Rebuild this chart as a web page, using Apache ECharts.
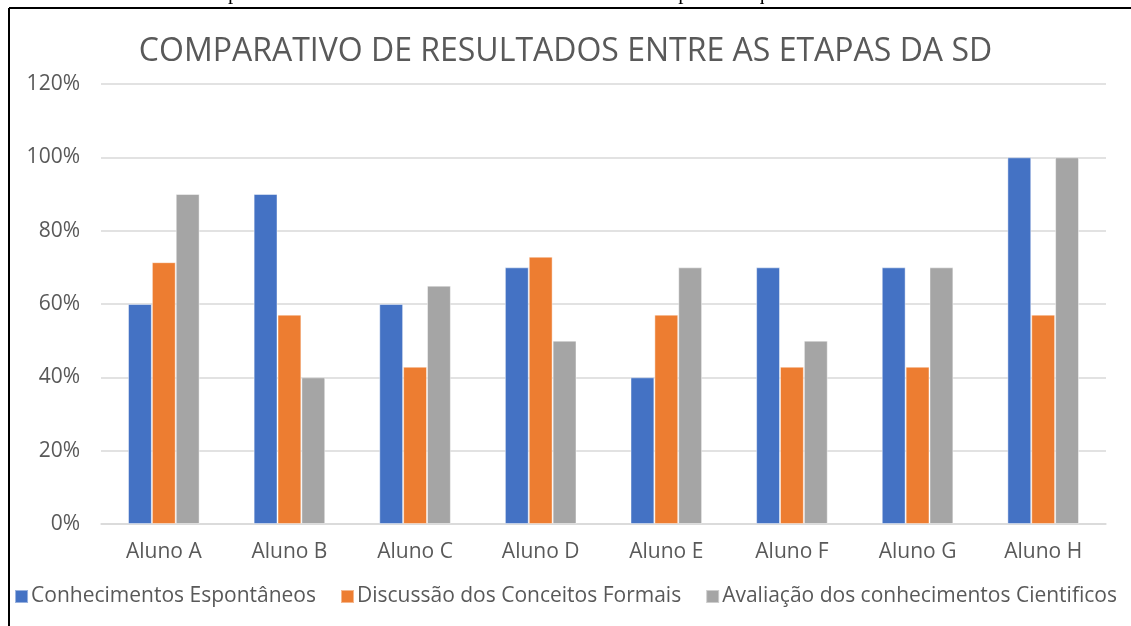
<!DOCTYPE html>
<html><head><meta charset="utf-8">
<script src="https://cdn.jsdelivr.net/npm/echarts@6/dist/echarts.min.js"></script>
<style>html,body{margin:0;padding:0;background:#fff}#c{width:1131px;height:626px}</style>
</head><body><div id="c"></div>
<script>
const categories = ['Aluno A','Aluno B','Aluno C','Aluno D','Aluno E','Aluno F','Aluno G','Aluno H'];
const seriesNames = ['Conhecimentos Espontâneos','Discussão dos Conceitos Formais','Avaliação dos conhecimentos Cientificos'];
const espontaneos = [60, 90, 60, 70, 40, 70, 70, 100];
const discussao = [71.4, 57.1, 42.9, 72.9, 57.1, 42.9, 42.9, 57.1];
const avaliacao = [90, 40, 65, 50, 70, 50, 70, 100];
const yTicks = [0, 20, 40, 60, 80, 100, 120];
const colors = ['#4472C4','#ED7D31','#A5A5A5'];
const titleText = 'COMPARATIVO DE RESULTADOS ENTRE AS ETAPAS DA SD';
const captionText = 'Gráfico 1 - Gráfico de comparativo entre os resultados das atividades em três etapas da sequência didática';

const font = "'Open Sans', 'Liberation Sans', sans-serif";
const chart = echarts.init(document.getElementById('c'));
const mk = (name, data, i) => ({
  name, type: 'bar', data, barGap: '0%', barCategoryGap: '43%',
  itemStyle: { color: colors[i], borderColor: 'rgba(255,255,255,0.45)', borderWidth: 1 }
});
chart.setOption({
  animation: false,
  color: colors,
  title: { text: titleText, left: 'center', top: 31,
    textStyle: { fontFamily: font, fontSize: 32, fontWeight: 'normal', color: '#595959' } },
  graphic: [
    { type: 'text', left: 0, top: -17, style: { text: captionText, font: "21px 'Liberation Serif', serif", fill: '#000' } },
    { type: 'rect', shape: { x: 0, y: 7, width: 1131, height: 619 }, style: { fill: '#fff' }, z: -1 },
    { type: 'line', shape: { x1: 9, y1: 8, x2: 1131, y2: 8 }, style: { stroke: '#000', lineWidth: 2 } },
    { type: 'line', shape: { x1: 9, y1: 8, x2: 9, y2: 626 }, style: { stroke: '#000', lineWidth: 2 } }
  ],
  legend: { bottom: 14, left: 'center', itemWidth: 13, itemHeight: 13, itemGap: 24,
    icon: 'rect',
    textStyle: { fontFamily: font, fontSize: 21, color: '#595959', padding: [0,0,0,-2] } },
  grid: { left: 101, right: 25, top: 84, bottom: 102 },
  xAxis: { type: 'category', data: categories,
    axisLine: { lineStyle: { color: '#d9d9d9', width: 1.5 } }, axisTick: { show: false },
    axisLabel: { fontFamily: font, fontSize: 21, color: '#595959', margin: 18 } },
  yAxis: { type: 'value', min: yTicks[0], max: yTicks[yTicks.length-1], interval: 20,
    axisLine: { show: false }, axisTick: { show: false },
    splitLine: { lineStyle: { color: '#d9d9d9', width: 1.5 } },
    axisLabel: { fontFamily: font, fontSize: 21, color: '#595959', margin: 21, formatter: v => v + '%' } },
  series: [mk(seriesNames[0], espontaneos, 0), mk(seriesNames[1], discussao, 1), mk(seriesNames[2], avaliacao, 2)]
});
</script></body></html>
